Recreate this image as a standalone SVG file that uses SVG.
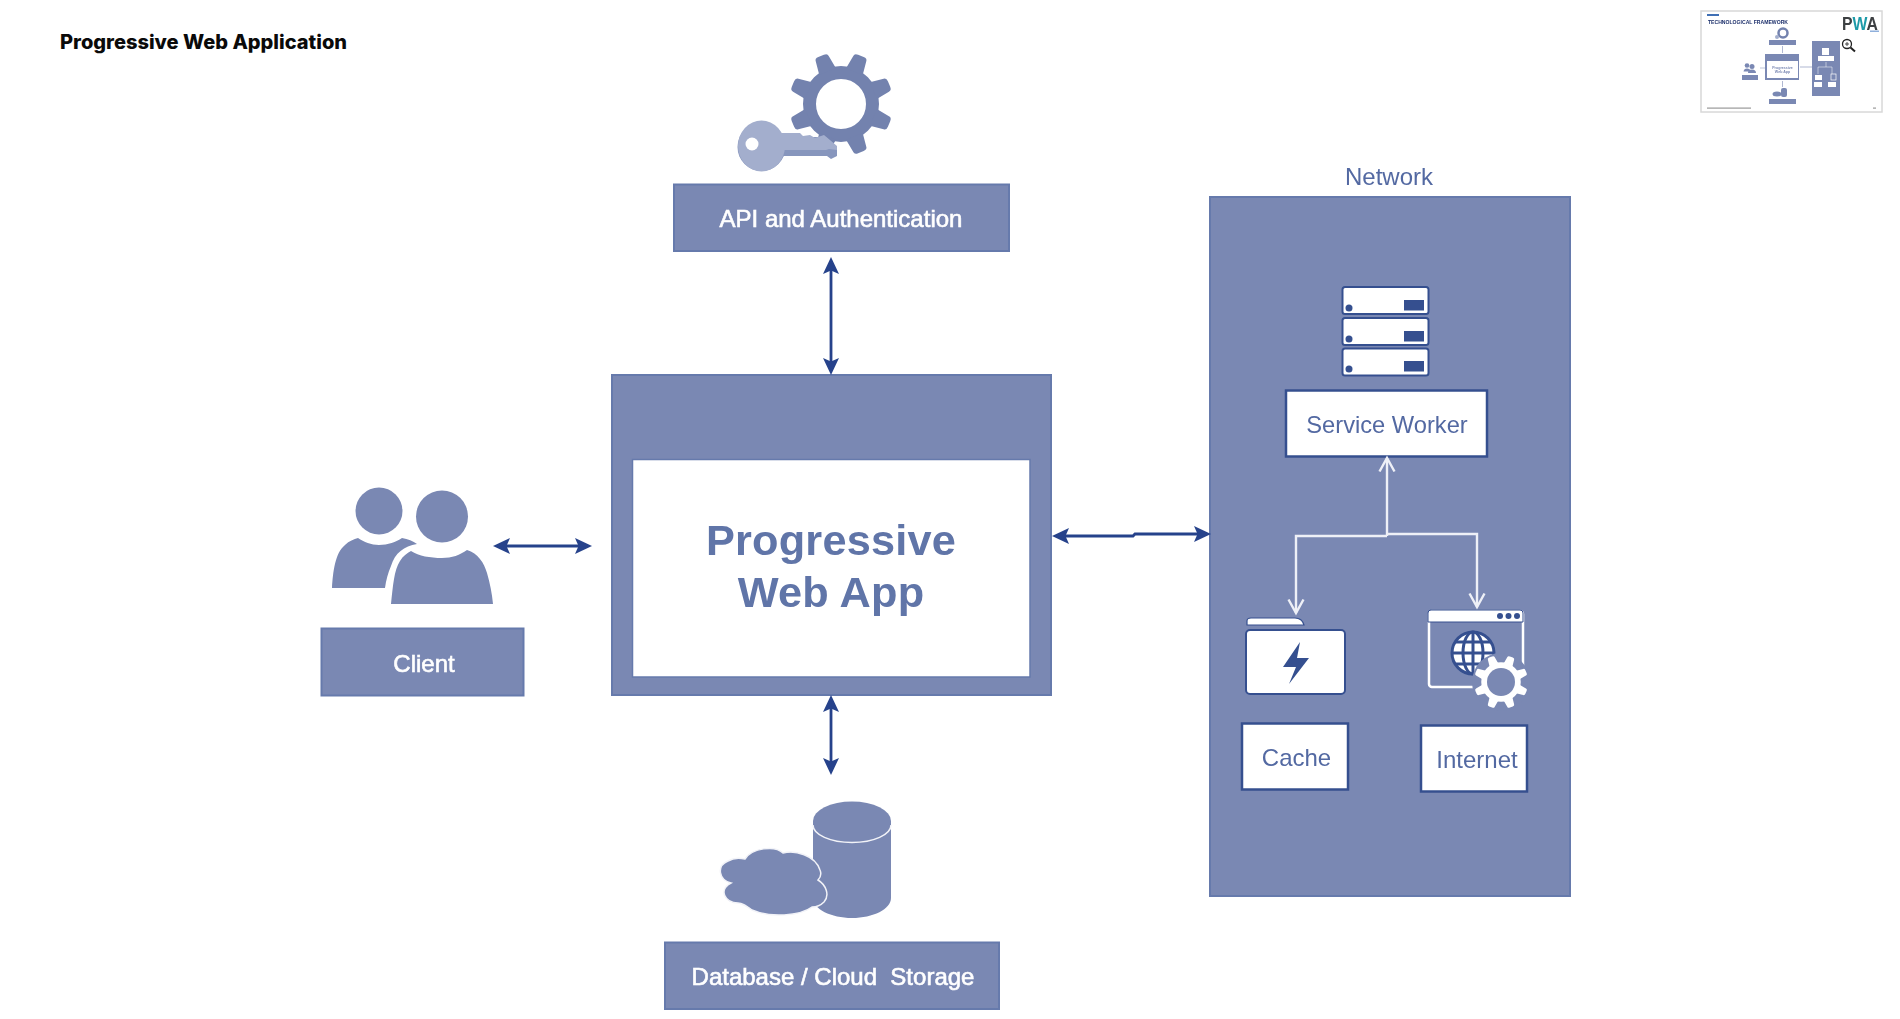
<svg xmlns="http://www.w3.org/2000/svg" width="1900" height="1019" viewBox="0 0 1900 1019">
<style>
text{font-family:"Liberation Sans",Arial,sans-serif;text-anchor:middle}
.soft{filter:url(#soft)}
.fill{fill:#7a88b3;stroke:#667aac;stroke-width:2}
.inbox{fill:#fff;stroke:#36508f;stroke-width:2.500}
.lab{fill:#fff;font-size:24px;stroke:#fff;stroke-width:.6px;white-space:pre}
.dark{fill:#5369a2;font-size:24px}
.big{fill:#6074a8;font-weight:700;font-size:43.300px;letter-spacing:.2px}
.ic{fill:#7a88b3}
.srv{fill:#fff;stroke:#36508f;stroke-width:2}
.sd{fill:#34508f}
.arrow{fill:none;stroke:#27438b;stroke-width:2.800;marker-start:url(#head);marker-end:url(#head)}
.warrow{fill:none;stroke:#eef0f7;stroke-width:2.400}
</style>
<defs>
<filter id="soft" filterUnits="userSpaceOnUse" x="0" y="0" width="1900" height="1019"><feGaussianBlur stdDeviation="0.6"/></filter>
<filter id="soft2" filterUnits="userSpaceOnUse" x="1690" y="0" width="210" height="125"><feGaussianBlur stdDeviation="0.7"/></filter>
<marker id="head" markerUnits="userSpaceOnUse" markerWidth="18" markerHeight="17" refX="13" refY="8.500" viewBox="0 0 18 17" orient="auto-start-reverse"><path d="M17 8.500L0 .5 3.500 8.500 0 16.500Z" fill="#27438b"/></marker>
<marker id="open" markerUnits="userSpaceOnUse" markerWidth="18" markerHeight="18" refX="15" refY="9" viewBox="0 0 18 18" orient="auto"><path d="M1.500 1.500L15 9 1.500 16.500" fill="none" stroke="#eef0f7" stroke-width="2.400"/></marker>
<g id="gear">
<circle r="31.500" fill="none" stroke="currentColor" stroke-width="13"/>
<g fill="currentColor">
<path id="tooth" d="M-9-35L-7-49Q-7-52-3-52H3Q7-52 7-49L9-35Z" transform="rotate(22.500)"/>
<use href="#tooth" transform="rotate(45)"/><use href="#tooth" transform="rotate(90)"/><use href="#tooth" transform="rotate(135)"/><use href="#tooth" transform="rotate(180)"/><use href="#tooth" transform="rotate(225)"/><use href="#tooth" transform="rotate(270)"/><use href="#tooth" transform="rotate(315)"/>
</g>
</g>
</defs>
<rect width="1900" height="1019" fill="#fff"/>
<text id="title" x="60" y="48.500" style="text-anchor:start;font-family:Inter,'Liberation Sans',sans-serif;font-weight:800;font-size:19.500px" fill="#0a0a0a" textLength="287" lengthAdjust="spacingAndGlyphs">Progressive Web Application</text>

<g id="api" class="soft">
<use href="#gear" transform="translate(841 104)" color="#7382ae"/>
<circle cx="761.500" cy="147" r="24" fill="#8796bd"/>
<path d="M770 137h56l11 10v9l-6 3-4-3h-53z" fill="#8796bd"/>
<ellipse cx="761.500" cy="146" rx="23.500" ry="25.500" fill="#a3aecd"/>
<path d="M770 133h30l3 3 7-1 5 3 9-3 13 11v4l-8-1-3 1h-56z" fill="#a3aecd"/>
<circle cx="752" cy="144" r="6.500" fill="#fff"/>
<rect class="fill" x="674" y="184.500" width="335" height="66.500"/>
<text class="lab" x="841" y="227">API and Authentication</text>
</g>

<g id="app" class="soft">
<rect class="fill" x="612" y="375" width="439" height="320"/>
<rect x="632.500" y="459.500" width="397.500" height="217.500" fill="#fff" stroke="#667aac" stroke-width="1.500"/>
<text class="big" x="831" y="555">Progressive</text>
<text class="big" x="831" y="607">Web App</text>
</g>

<g id="client" class="soft">
<circle class="ic" cx="379" cy="511" r="23.500"/>
<circle class="ic" cx="442" cy="516.500" r="26"/>
<path class="ic" d="M332 588C333 572 335 553 345 545 349 541 354 539 358 538 364 542 371 545 379 545 388 545 396 542 402 538 408 539 413 541 417 544 404 546 395 553 391 566 388 573 386 580 385 588Z"/>
<path class="ic" d="M391 604C393 586 394 570 400 561 403 556 407 553 411 551 419 556 430 558 442 558 452 558 460 555 467 550 478 553 484 563 487 573 490 583 492 594 493 604Z"/>
<rect class="fill" x="321.500" y="628.500" width="202" height="67"/>
<text class="lab" x="424" y="672">Client</text>
</g>

<g id="db" class="soft">
<path class="ic" d="M813 821V898C813 909 831 918 852 918 873 918 891 909 891 898V821A39 19.500 0 0 0 813 821Z"/>
<path d="M813 825A39 17.500 0 0 0 891 825" fill="none" stroke="#f2f3f8" stroke-width="1.500"/>
<path d="M731 883C719 880 716 866 728 861 733 858 740 858 745 859 752 848 775 845 783 853 795 850 815 855 820 870 822 875 820 878 818 880 826 885 830 895 824 902 820 906 816 907 812 907 800 916 770 918 752 910 745 905 742 903 738 903 725 903 718 890 731 883Z" fill="#7a88b3" stroke="#f2f3f8" stroke-width="1.500"/>
<rect class="fill" x="665" y="942.500" width="334" height="66.500"/>
<text class="lab" x="833" y="985" xml:space="preserve">Database / Cloud  Storage</text>
</g>

<g id="network" class="soft">
<text x="1389" y="185" fill="#5369a2" font-size="24">Network</text>
<rect class="fill" x="1210" y="197" width="360" height="699"/>
</g>

<g id="service-worker" class="soft">
<rect class="srv" x="1342.500" y="287" width="86" height="27" rx="2.500"/>
<rect class="srv" x="1342.500" y="318" width="86" height="27" rx="2.500"/>
<rect class="srv" x="1342.500" y="348.500" width="86" height="27" rx="2.500"/>
<circle class="sd" cx="1349" cy="308" r="3.500"/><circle class="sd" cx="1349" cy="339" r="3.500"/><circle class="sd" cx="1349" cy="369" r="3.500"/>
<rect class="sd" x="1404" y="300" width="20" height="10.500"/><rect class="sd" x="1404" y="331" width="20" height="10.500"/><rect class="sd" x="1404" y="361" width="20" height="10.500"/>
<rect class="inbox" x="1286" y="390.500" width="201" height="66"/>
<text class="dark" x="1387" y="433" style="font-size:23.700px">Service Worker</text>
</g>

<g id="cache" class="soft">
<path d="M1247 625v-4q0-3 4-3h44q7 0 9 7z" fill="#fff" stroke="#36508f" stroke-width="1.200"/>
<rect class="srv" x="1246" y="630" width="99" height="64" rx="4"/>
<path class="sd" d="M1300 642L1283 667H1296L1289 684 1309 658H1297Z"/>
<rect class="inbox" x="1242" y="723.500" width="106" height="66"/>
<text class="dark" x="1296.500" y="766">Cache</text>
</g>

<g id="internet" class="soft">
<rect x="1429" y="611" width="94" height="76" rx="3" fill="none" stroke="#fff" stroke-width="2.500"/>
<path d="M1428 622v-9q0-3 3-3h89q3 0 3 3v9z" fill="#fff" stroke="#36508f" stroke-width="1"/>
<circle class="sd" cx="1500" cy="616" r="3"/><circle class="sd" cx="1508.500" cy="616" r="3"/><circle class="sd" cx="1517" cy="616" r="3"/>
<g fill="none" stroke="#36508f" stroke-width="3">
<circle cx="1473" cy="653" r="21" fill="#fff"/>
<ellipse cx="1473" cy="653" rx="10" ry="21"/>
<path d="M1473 632v42M1456 642h34M1452 653h42M1456 664h34"/>
</g>
<circle cx="1501" cy="682" r="29" fill="#7a88b3"/>
<use href="#gear" transform="translate(1501 682) scale(.52)" color="#fff"/>
<circle cx="1501" cy="682" r="14" fill="#7a88b3"/>
<rect class="inbox" x="1421" y="725.500" width="106" height="66"/>
<text class="dark" x="1477" y="768">Internet</text>
</g>

<g id="connectors" class="soft">
<path class="arrow" d="M831 261V371"/>
<path class="arrow" d="M831 699V771"/>
<path class="arrow" d="M497 546H588"/>
<path class="arrow" d="M1056 536H1133L1135 534H1207"/>
<path class="warrow" d="M1387 536V458" marker-end="url(#open)"/>
<path class="warrow" d="M1387 536H1296V613" marker-end="url(#open)"/>
<path class="warrow" d="M1387 534H1477V607" marker-end="url(#open)"/>
</g>

<g id="thumbnail" style="filter:url(#soft2)">
<rect x="1701" y="11" width="181" height="101" fill="#fff" stroke="#d8d8d8" stroke-width="1.500"/>
<rect x="1707" y="14" width="12" height="2" fill="#3f6fb5"/>
<text x="1708" y="23.500" fill="#1c2f6b" style="text-anchor:start;font-weight:700;font-size:5.600px" textLength="80" lengthAdjust="spacingAndGlyphs">TECHNOLOGICAL FRAMEWORK</text>
<text x="1842" y="29.500" style="text-anchor:start;font-weight:700;font-size:18.500px" textLength="36" lengthAdjust="spacingAndGlyphs"><tspan fill="#3c4043">P</tspan><tspan fill="#1f9aa8">W</tspan><tspan fill="#3c4043">A</tspan></text>
<rect x="1870" y="30.500" width="9" height="1.500" fill="#8fb0dc"/>
<circle cx="1847" cy="44" r="4.500" fill="#fff" stroke="#222" stroke-width="1.300"/>
<path d="M1845 44h4M1847 42v4" stroke="#222" stroke-width=".8"/>
<path d="M1850.500 47.500L1855 51.500" stroke="#222" stroke-width="2"/>
<circle cx="1783" cy="33" r="4.500" fill="none" stroke="#7382ae" stroke-width="2.500"/>
<circle cx="1777" cy="37" r="2" fill="#a3aecd"/>
<rect x="1769" y="40" width="27" height="5" fill="#7a88b3"/>
<path d="M1782.500 46V53" stroke="#7a88b3" stroke-width=".6"/>
<rect x="1765" y="54" width="34" height="26" fill="#7a88b3"/>
<rect x="1767" y="61" width="31" height="17" fill="#fff"/>
<text x="1782.500" y="68.500" fill="#7a88b3" style="font-weight:700;font-size:3.600px">Progressive</text>
<text x="1782.500" y="73" fill="#7a88b3" style="font-weight:700;font-size:3.600px">Web App</text>
<circle cx="1747" cy="65.500" r="2.300" fill="#7a88b3"/><circle cx="1752" cy="66.500" r="2.500" fill="#7a88b3"/>
<path d="M1743.500 71.500Q1744 68.500 1747 68.500T1751 71.500ZM1748 73Q1748 69.500 1752 69.500T1756 73Z" fill="#7a88b3"/>
<rect x="1742" y="75" width="16" height="5" fill="#7a88b3"/>
<path d="M1760 68H1765" stroke="#7a88b3" stroke-width=".5"/>
<path d="M1782.500 81V87" stroke="#7a88b3" stroke-width=".6"/>
<rect x="1781" y="88" width="6" height="9" rx="2" fill="#7a88b3"/>
<ellipse cx="1777" cy="94" rx="4.500" ry="2.500" fill="#7a88b3"/>
<rect x="1769" y="99" width="27" height="5" fill="#7a88b3"/>
<path d="M1800 67H1812" stroke="#7a88b3" stroke-width=".6"/>
<rect x="1812" y="41" width="28" height="55" fill="#7a88b3"/>
<rect x="1822" y="48" width="7" height="7" fill="#fff"/>
<rect x="1818" y="56" width="16" height="5" fill="#fff"/>
<path d="M1826 62V67M1818 67H1832V74M1818 67V74" stroke="#fff" stroke-width=".5" fill="none"/>
<rect x="1815" y="75" width="7" height="5" fill="#fff"/>
<rect x="1831" y="74" width="5" height="6" fill="none" stroke="#fff" stroke-width=".7"/>
<rect x="1814" y="82" width="8" height="5" fill="#fff"/>
<rect x="1828" y="82" width="8" height="5" fill="#fff"/>
<rect x="1707" y="107.500" width="44" height="1.200" fill="#999"/>
<rect x="1873" y="107.500" width="3" height="1.200" fill="#999"/>
</g>
</svg>
